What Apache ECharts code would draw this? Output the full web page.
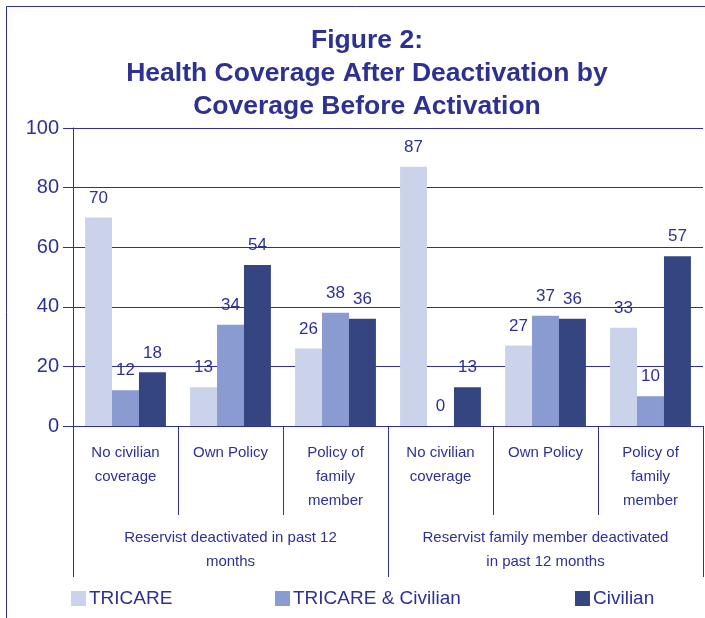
<!DOCTYPE html>
<html><head><meta charset="utf-8">
<script src="https://cdn.jsdelivr.net/npm/echarts@6/dist/echarts.min.js"></script>
<style>html,body{margin:0;padding:0;background:#fff}#c{width:705px;height:618px}</style>
</head><body><div id="c"></div>
<script>
const categories = ['No civilian\ncoverage','Own Policy','Policy of\nfamily\nmember','No civilian\ncoverage','Own Policy','Policy of\nfamily\nmember'];
const groups = ['Reservist deactivated in past 12\nmonths','Reservist family member deactivated\nin past 12 months'];
const tricare = [70, 13, 26, 87, 27, 33];
const tricareCivilian = [12, 34, 38, 0, 37, 10];
const civilian = [18, 54, 36, 13, 36, 57];
const seriesNames = ['TRICARE','TRICARE & Civilian','Civilian'];
const colors = ['#CAD3EA','#899BD0','#344581'];
const ink = '#2E3192';
const font = 'Liberation Sans, Arial, sans-serif';

const chart = echarts.init(document.getElementById('c'));
const mk = (name, data, color) => ({
  name, type: 'bar', data, barGap: '0%', barCategoryGap: '23%',
  itemStyle: {color},
  label: {show: true, position: 'top', distance: 11, color: ink, fontSize: 17, fontFamily: font}
});
chart.setOption({
  animation: false,
  graphic: [{type:'rect', shape:{x:6.5,y:6.5,width:760,height:700}, style:{fill:null, stroke: ink, lineWidth:1}, silent:true}],
  title: {
    text: 'Figure 2:\nHealth Coverage After Deactivation by\nCoverage Before Activation',
    left: 362, top: 19, textAlign: 'center',
    textStyle: {color: ink, fontSize: 26.5, fontWeight: 'bold', lineHeight: 33, fontFamily: font}
  },
  grid: {left: 73, right: 2, top: 128, bottom: 192},
  legend: [0,1,2].map(i => ({
    data: [seriesNames[i]], left: [66, 270, 570][i], top: 584,
    itemWidth: 15, itemHeight: 15, itemGap: 5,
    icon: 'rect',
    textStyle: {color: ink, fontSize: 19, fontFamily: font, padding: [0,0,0,-2]}
  })),
  xAxis: [{
    type: 'category', data: categories,
    axisLine: {lineStyle: {color: ink}},
    axisTick: {show: true, length: 89, lineStyle: {color: ink}},
    axisLabel: {interval: 0, color: ink, fontSize: 15, lineHeight: 24, margin: 15, fontFamily: font}
  },{
    type: 'category', data: groups, position: 'bottom',
    axisLine: {show: false},
    axisTick: {show: true, length: 151, lineStyle: {color: ink}},
    axisLabel: {interval: 0, color: ink, fontSize: 15, lineHeight: 24, margin: 100, fontFamily: font}
  }],
  yAxis: {
    type: 'value', min: 0, max: 100, interval: 20,
    axisLine: {show: true, lineStyle: {color: ink}},
    axisTick: {show: true, length: 10, lineStyle: {color: ink}},
    splitLine: {lineStyle: {color: ink, width: 1}},
    axisLabel: {color: ink, fontSize: 20, margin: 14, fontFamily: font}
  },
  series: [mk(seriesNames[0], tricare, colors[0]), mk(seriesNames[1], tricareCivilian, colors[1]), mk(seriesNames[2], civilian, colors[2])]
});
</script></body></html>
